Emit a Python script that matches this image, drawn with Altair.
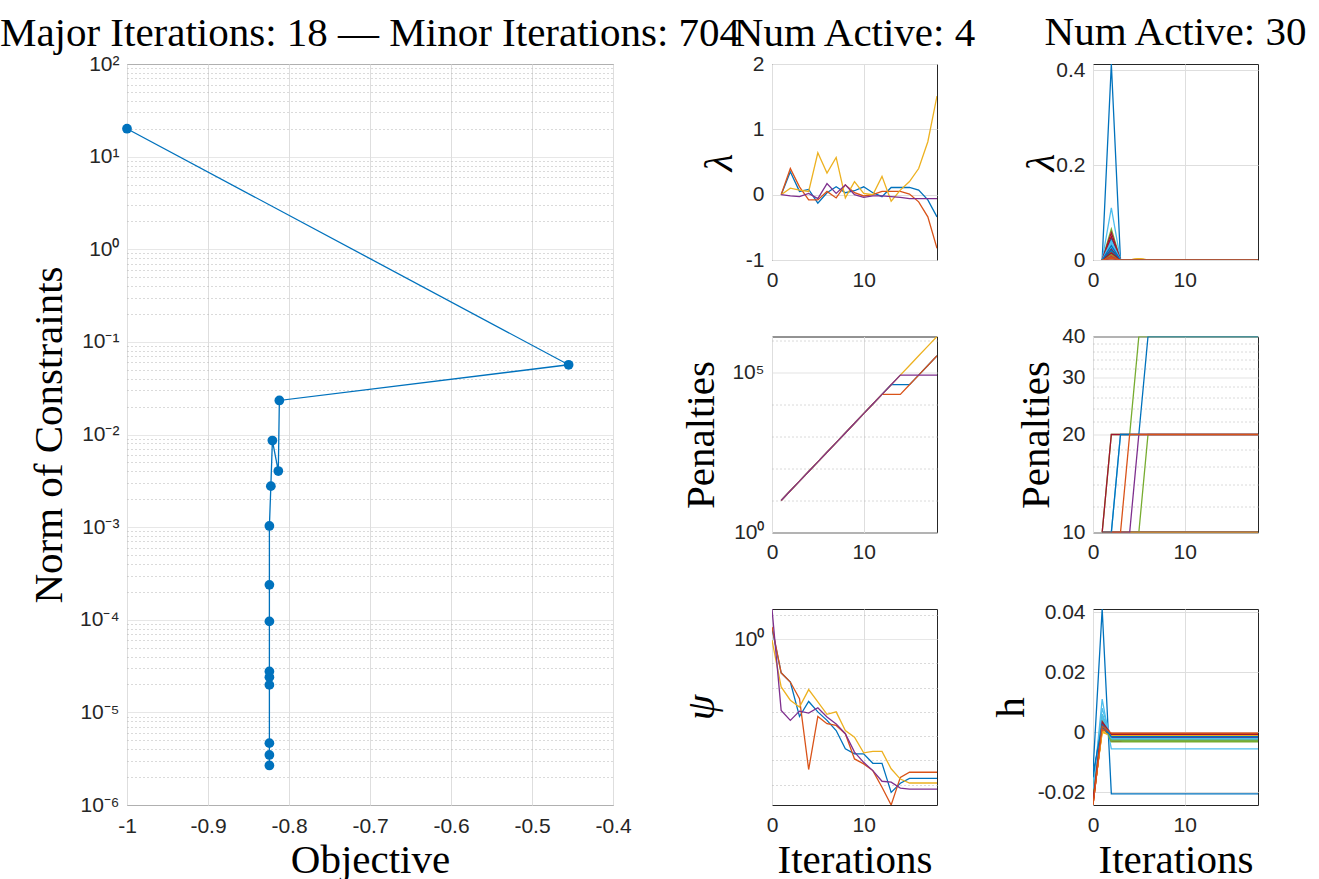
import altair as alt
import pandas as pd

# ---------------- colours (MATLAB default colour order) ----------------
C_BLUE, C_ORANGE, C_YELLOW, C_PURPLE = "#0072BD", "#D95319", "#EDB120", "#7E2F8E"
C_GREEN, C_LBLUE, C_DRED = "#77AC30", "#4DBEEE", "#A2142F"
CYCLE = [C_BLUE, C_ORANGE, C_YELLOW, C_PURPLE, C_GREEN, C_LBLUE, C_DRED]

SERIF = "Liberation Serif"
SANS = "Liberation Sans"
INK = "#262626"
GRID_MAJOR = "#dedede"
GRID_MINOR = "#b4b4b4"
TITLE_SIZE = 41

# ---------------- main panel data ----------------
OBJECTIVE = [-1.0, -0.4548, -0.8119, -0.8132, -0.8205, -0.8224, -0.8242, -0.8242,
             -0.8242, -0.8242, -0.8242, -0.8242, -0.8242, -0.8242, -0.8242]
NORM = [20.0, 0.0566, 0.0233, 0.00403, 0.0086, 0.00277, 0.00103, 0.000238,
        0.000096, 2.77e-5, 2.4e-5, 1.98e-5, 4.65e-6, 3.47e-6, 2.67e-6]
X_MAIN_TICKS = [-1.0, -0.9, -0.8, -0.7, -0.6, -0.5, -0.4]

# ---------------- column 2 (Num Active: 4) ----------------
ITER_1_18 = [1, 2, 3, 4, 5, 6, 7, 8, 9, 10, 11, 12, 13, 14, 15, 16, 17, 18]
ITER_0_18 = [0, 1, 2, 3, 4, 5, 6, 7, 8, 9, 10, 11, 12, 13, 14, 15, 16, 17, 18]

LAM4_BLUE = [0, 0.35, 0.05, 0.08, -0.13, 0.03, 0.12, 0.03, 0.06, 0.12, 0.03, -0.03,
             0.11, 0.11, 0.11, 0.07, -0.08, -0.34]
LAM4_ORANGE = [0, 0.40, 0.12, -0.08, -0.08, 0.05, -0.05, 0.15, 0.03, -0.02, 0.0, 0.05,
               0.05, 0.05, 0.01, -0.11, -0.34, -0.82]
LAM4_YELLOW = [0, 0.10, 0.07, 0.05, 0.64, 0.33, 0.57, -0.05, 0.20, 0.02, 0.0, 0.28,
               -0.10, 0.07, 0.20, 0.40, 0.81, 1.51]
LAM4_PURPLE = [0, -0.02, -0.03, 0.02, -0.06, 0.17, 0.02, 0.15, 0.0, -0.04, -0.02, -0.02,
               -0.03, -0.04, -0.06, -0.06, -0.06, -0.06]

PEN4_BLUE = [10, 20, 40, 80, 160, 320, 640, 1280, 2560, 5120, 10240, 20480, 40960,
             40960, 40960, 81920, 163840, 327680]
PEN4_ORANGE = [10, 20, 40, 80, 160, 320, 640, 1280, 2560, 5120, 10240, 20480, 20480,
               20480, 40960, 81920, 163840, 327680]
PEN4_YELLOW = [10, 20, 40, 80, 160, 320, 640, 1280, 2560, 5120, 10240, 20480, 40960,
               81920, 163840, 327680, 655360, 1310720]
PEN4_PURPLE = [10, 20, 40, 80, 160, 320, 640, 1280, 2560, 5120, 10240, 20480, 40960,
               81920, 81920, 81920, 81920, 81920]

PSI4_BLUE = [2.82, 0.0407, 0.0170, 6.46e-4, 2.69e-3, 1.0e-3, 4.47e-4, 1.70e-4, 3.02e-5,
             1.86e-5, 1.86e-5, 7.6e-6, 7.6e-6, 4.8e-7, 1.15e-6, 1.82e-6, 1.82e-6, 1.82e-6, 1.82e-6]
PSI4_ORANGE = [3.16, 0.0407, 0.0170, 3.47e-3, 4.2e-6, 6.46e-4, 3.24e-4, 2.75e-4, 1.26e-4,
               1.15e-5, 7.2e-6, 3.8e-6, 7.8e-7, 1.45e-7, 2.0e-6, 3.24e-6, 3.24e-6, 3.24e-6, 3.24e-6]
PSI4_YELLOW = [0.912, 0.0107, 3.02e-3, 1.58e-3, 8.3e-3, 2.57e-3, 7.9e-4, 1.0e-3, 1.70e-4,
               9.1e-5, 2.04e-5, 2.34e-5, 2.34e-5, 4.5e-6, 1.70e-6, 1.17e-6, 1.17e-6, 1.17e-6, 1.17e-6]
PSI4_PURPLE = [17.4, 1.15e-3, 4.47e-4, 1.07e-3, 8.9e-4, 1.48e-3, 6.2e-4, 3.2e-4, 1.26e-4,
               2.2e-5, 8.3e-6, 3.8e-6, 1.38e-6, 1.26e-6, 7.2e-7, 6.6e-7, 6.6e-7, 6.6e-7, 6.6e-7]

# ---------------- column 3 (Num Active: 30) ----------------
# multiplier spike at iteration 2, small bump at iteration 5, zero elsewhere
LAM30_SPIKE = [0.413, 0.012, 0.004, 0.020, 0.065, 0.110, 0.058, 0.045, 0.008, 0.002,
               0.015, 0.030, 0.035, 0.050, 0.025, 0.010, 0.0, 0.006, 0.018, 0.028,
               0.022, 0.020, 0.005, 0.0, 0.003, 0.012, 0.040, 0.015, 0.030, 0.004]
LAM30_BUMP5 = [0, 0, 0.003, 0, 0, 0, 0, 0, 0, 0.002, 0, 0, 0, 0, 0, 0, 0.002, 0, 0, 0,
               0, 0, 0, 0.003, 0, 0, 0, 0, 0, 0]
# penalties: iteration at which the penalty first reads 20 / 40 (0 = stays at 10)
PEN30_TO20 = [0, 0, 0, 0, 0, 0, 0, 0, 0, 0, 0, 0, 0, 0, 0, 0, 0, 0, 6, 0,
              0, 0, 0, 0, 5, 2, 3, 2, 3, 4]
PEN30_TO40 = [0, 0, 0, 0, 0, 0, 0, 0, 0, 0, 0, 0, 0, 0, 0, 0, 0, 0, 0, 0,
              0, 0, 0, 0, 0, 5, 0, 0, 6, 0]
# constraint values h: iteration 0, iteration 1, settled value
H_START = [-0.013, -0.024, -0.023, -0.022, -0.021, -0.020, -0.022, -0.016, -0.024, -0.023,
           -0.022, -0.020, -0.019, -0.023, -0.018, -0.024, -0.022, -0.021, -0.020, -0.017,
           -0.023, -0.015, -0.024, -0.022, -0.021, -0.020, -0.019, -0.023, -0.014, -0.0242]
H_PEAK = [0.041, 0.002, 0.001, 0.003, 0.006, 0.011, 0.0055, 0.004, 0.001, 0.0,
          0.002, 0.005, 0.008, 0.004, 0.003, 0.0015, 0.0005, 0.002, 0.004, 0.006,
          0.003, 0.002, 0.001, 0.0, 0.003, 0.0045, 0.005, 0.0035, 0.0025, 0.002]
H_SETTLED = [-0.0205, -0.0005, -0.0010, -0.0015, -0.0030, -0.0055, -0.0005, -0.0020, -0.0008, -0.0012,
             -0.0016, -0.0028, -0.0022, -0.0010, -0.0018, -0.0006, -0.0014, -0.0012, -0.0032, -0.0025,
             -0.0009, -0.0019, -0.0004, -0.0011, -0.0017, -0.0026, -0.0021, -0.0007, -0.0015, -0.0003]
H_TRANSIENT = {6: [-0.003, -0.003, -0.0015, -0.0005]}   # iterations 2..5

# ---------------- helpers ----------------
SUP = {"0": "⁰", "1": "¹", "2": "²", "3": "³", "4": "⁴", "5": "⁵",
       "6": "⁶", "7": "⁷", "8": "⁸", "9": "⁹", "-": "⁻"}


def pow10_label():
    e = "toString(round(log(datum.value)/LN10))"
    for k, v in SUP.items():
        e = f"replace({e}, '{k}', '{v}')"
    return "'10' + " + e


IS_DECADE = "abs(log(datum.value)/LN10 - round(log(datum.value)/LN10)) < 0.001"


def grid_cond(test):
    return dict(
        gridDash={"condition": {"test": test, "value": [1, 0]}, "value": [1, 3]},
        gridColor={"condition": {"test": test, "value": GRID_MAJOR}, "value": GRID_MINOR},
    )


def title_params(text, dy):
    return alt.TitleParams(text, font=SERIF, fontSize=TITLE_SIZE, fontWeight="normal",
                           color="black", anchor="middle", frame="group",
                           baseline="alphabetic", offset=18, dy=dy)


def x_iter_axis(with_title):
    kw = dict(values=[0, 10], labelExpr="toString(datum.value)", labelPadding=9)
    if with_title:
        kw.update(title="Iterations", titleY=67, titleBaseline="alphabetic")
    else:
        kw.update(title=None)
    return alt.Axis(**kw)


def series_frame(x_values, series_list, names, colors):
    rows = []
    for name, col, ys in zip(names, colors, series_list):
        for x, y in zip(x_values, ys):
            rows.append({"series": name, "col": col, "x": x, "y": y})
    return pd.DataFrame(rows)


def line_panel(df, y_scale, y_axis, x_axis, title=None, dy=0):
    ch = alt.Chart(df).mark_line(strokeWidth=1.3, clip=True).encode(
        x=alt.X("x:Q", scale=alt.Scale(domain=[0, 18], nice=False, zero=False), axis=x_axis),
        y=alt.Y("y:Q", scale=y_scale, axis=y_axis),
        detail="series:N",
        color=alt.Color("col:N", scale=None, legend=None),
    )
    props = dict(width=165, height=196)
    if title is not None:
        props["title"] = title_params(title, dy)
    return ch.properties(**props)


# ---------------- main panel ----------------
main_df = pd.DataFrame({"step": list(range(len(OBJECTIVE))), "objective": OBJECTIVE, "norm": NORM})
Y_MAIN_TICKS = [m * 10.0 ** e for e in range(-6, 2) for m in range(1, 10)] + [100.0]

main = alt.Chart(main_df).mark_line(
    color=C_BLUE, strokeWidth=1.3,
    point=alt.OverlayMarkDef(filled=True, size=95, color=C_BLUE, opacity=1),
).encode(
    x=alt.X("objective:Q", scale=alt.Scale(domain=[-1, -0.4], nice=False, zero=False),
            axis=alt.Axis(values=X_MAIN_TICKS, labelExpr="toString(datum.value)",
                          title="Objective", titleY=67, titleBaseline="alphabetic",
                          labelPadding=10)),
    y=alt.Y("norm:Q", scale=alt.Scale(type="log", domain=[1e-6, 100], nice=False),
            axis=alt.Axis(values=Y_MAIN_TICKS, labelExpr=f"{IS_DECADE} ? ({pow10_label()}) : ''",
                          title="Norm of Constraints", titleX=-78, titleBaseline="middle",
                          **grid_cond(IS_DECADE))),
    order="step:Q",
).properties(
    width=486, height=741,
    title=title_params("Major Iterations: 18 — Minor Iterations: 704", 52),
)

# ---------------- column 2 panels ----------------
N4 = ["a1", "a2", "a3", "a4"]
C4 = [C_BLUE, C_ORANGE, C_YELLOW, C_PURPLE]

lam4 = line_panel(
    series_frame(ITER_1_18, [LAM4_BLUE, LAM4_ORANGE, LAM4_YELLOW, LAM4_PURPLE], N4, C4),
    alt.Scale(domain=[-1, 2], nice=False, zero=False),
    alt.Axis(values=[-1, 0, 1, 2], labelExpr="toString(datum.value)", title="λ",
             titleX=-53, titleBaseline="middle", titleFontStyle="italic"),
    x_iter_axis(False), title="Num Active: 4", dy=52)

PEN4_TICKS = [1.0, 10.0, 100.0, 1000.0, 10000.0, 100000.0, 1000000.0]
PEN4_MAJOR = "datum.value == 1 || datum.value == 100000"
pen4 = line_panel(
    series_frame(ITER_1_18, [PEN4_BLUE, PEN4_ORANGE, PEN4_YELLOW, PEN4_PURPLE], N4, C4),
    alt.Scale(type="log", domain=[1, max(PEN4_YELLOW)], nice=False),
    alt.Axis(values=PEN4_TICKS, labelExpr=f"({PEN4_MAJOR}) ? ({pow10_label()}) : ''",
             title="Penalties", titleX=-71, titleBaseline="middle", **grid_cond(PEN4_MAJOR)),
    x_iter_axis(False))

PSI_ALL = PSI4_BLUE + PSI4_ORANGE + PSI4_YELLOW + PSI4_PURPLE
PSI_TICKS = [1e-7, 1e-6, 1e-5, 1e-4, 1e-3, 1e-2, 1e-1, 1.0, 10.0]
PSI_MAJOR = "datum.value == 1"
psi4 = line_panel(
    series_frame(ITER_0_18, [PSI4_BLUE, PSI4_ORANGE, PSI4_YELLOW, PSI4_PURPLE], N4, C4),
    alt.Scale(type="log", domain=[min(PSI_ALL), max(PSI_ALL)], nice=False),
    alt.Axis(values=PSI_TICKS, labelExpr=f"({PSI_MAJOR}) ? ({pow10_label()}) : ''",
             title="ψ", titleX=-71, titleBaseline="middle", titleFontStyle="italic",
             **grid_cond(PSI_MAJOR)),
    x_iter_axis(True))

# ---------------- column 3 panels ----------------
N30 = [f"b{i:02d}" for i in range(30)]
C30 = [CYCLE[i % 7] for i in range(30)]

lam30_series = []
for i in range(30):
    ys = []
    for k in ITER_1_18:
        ys.append(LAM30_SPIKE[i] if k == 2 else (LAM30_BUMP5[i] if k == 5 else 0.0))
    lam30_series.append(ys)
lam30 = line_panel(
    series_frame(ITER_1_18, lam30_series, N30, C30),
    alt.Scale(domain=[0, max(LAM30_SPIKE)], nice=False, zero=False),
    alt.Axis(values=[0, 0.2, 0.4], labelExpr="toString(datum.value)", title="λ",
             titleX=-52, titleBaseline="middle", titleFontStyle="italic"),
    x_iter_axis(False), title="Num Active: 30", dy=45)

pen30_series = []
for i in range(30):
    ys = []
    for k in ITER_1_18:
        v = 10
        if PEN30_TO20[i] and k >= PEN30_TO20[i]:
            v = 20
        if PEN30_TO40[i] and k >= PEN30_TO40[i]:
            v = 40
        ys.append(v)
    pen30_series.append(ys)
PEN30_TICKS = [10, 12, 14, 16, 18, 20, 22, 24, 26, 28, 30, 32, 34, 36, 38, 40]
PEN30_MAJOR = "datum.value % 10 == 0"
pen30 = line_panel(
    series_frame(ITER_1_18, pen30_series, N30, C30),
    alt.Scale(type="log", domain=[10, 40], nice=False),
    alt.Axis(values=PEN30_TICKS, labelExpr=f"({PEN30_MAJOR}) ? toString(datum.value) : ''",
             title="Penalties", titleX=-57, titleBaseline="middle", **grid_cond(PEN30_MAJOR)),
    x_iter_axis(False))

h30_series = []
for i in range(30):
    ys = [H_START[i], H_PEAK[i]]
    trans = H_TRANSIENT.get(i, [])
    for j, k in enumerate(ITER_0_18[2:]):
        ys.append(trans[j] if j < len(trans) else H_SETTLED[i])
    h30_series.append(ys)
h30 = line_panel(
    series_frame(ITER_0_18, h30_series, N30, C30),
    alt.Scale(domain=[min(H_START), max(H_PEAK)], nice=False, zero=False),
    alt.Axis(values=[-0.02, 0, 0.02, 0.04], labelExpr="toString(datum.value)", title="h",
             titleX=-82, titleBaseline="middle"),
    x_iter_axis(True))

grid = alt.concat(lam4, lam30, pen4, pen30, psi4, h30, columns=2,
                  spacing={"row": 76.5, "column": 156}, bounds="flush")

chart = alt.hconcat(main, grid, spacing=159, bounds="flush").properties(
    padding={"left": -1, "top": 11, "right": 5, "bottom": 5},
    background="white",
).configure_view(
    stroke=INK, strokeWidth=1,
).configure_axis(
    labelFont=SANS, labelFontSize=21, labelColor=INK,
    titleFont=SERIF, titleFontSize=TITLE_SIZE, titleFontWeight="normal", titleColor="black",
    domain=False, ticks=False, labelPadding=8, labelFlush=False, labelOverlap=False,
    gridColor=GRID_MAJOR, gridOpacity=1, gridWidth=1,
)

chart.save("out.html", embed_options={"renderer": "svg", "actions": False})
